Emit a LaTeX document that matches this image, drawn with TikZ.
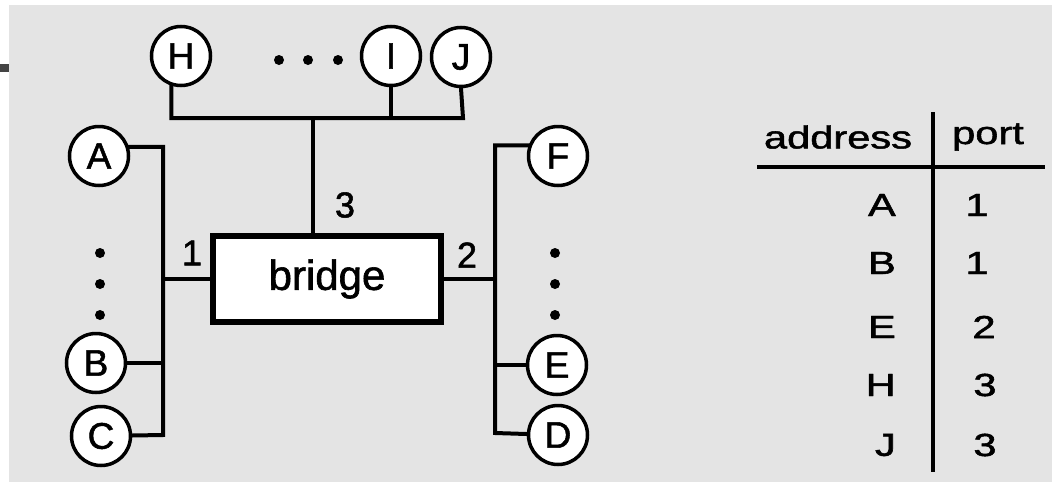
\documentclass[tikz,border=0pt]{standalone}
\usepackage{fontspec}
\setmainfont[FakeBold=1.4]{Liberation Sans}
\usepackage{graphicx}
\definecolor{bggray}{HTML}{E4E4E4}
\definecolor{tabbar}{HTML}{444444}
\tikzset{
  host/.style={circle, draw=black, fill=white, line width=3.5pt, minimum size=59pt, inner sep=0pt, font=\fontsize{37}{38}\selectfont},
  bus/.style={line width=4pt, line cap=rect},
  bridgebox/.style={rectangle, draw=black, fill=white, line width=6pt, minimum width=228pt, minimum height=86pt, inner sep=0pt, font=\fontsize{42}{44}\selectfont},
  portlbl/.style={inner sep=0pt, font=\fontsize{36}{38}\selectfont},
  tabtxt/.style={inner sep=0pt, font=\fontsize{32}{34}\selectfont},
  dot/.style={circle, fill=black, inner sep=0pt, minimum size=10pt},
  tabline/.style={line width=4pt}
}
\newcommand{\wide}[1]{\scalebox{1.3}[1]{#1}}
\begin{document}
\begin{tikzpicture}[x=1pt, y=-1pt]
\useasboundingbox (0,0) rectangle (1052,482);
\fill[white] (0,0) rectangle (1052,482);
\fill[bggray] (9,5) rectangle (1052,482);
\fill[tabbar] (0,64) rectangle (9,72);

% bridge
\node[bridgebox] (bridge) at (327,279) {bridge};

% top hosts
\node[host] (H) at (181,56) {H};
\node[host] (I) at (391,56) {I};
\node[host] (J) at (461,57) {J};
\node[dot] (t1) at (279,60) {};
\node[dot] (t2) at (308,60) {};
\node[dot] (t3) at (338,60) {};

% left hosts
\node[host] (A) at (99,156) {A};
\node[host] (B) at (96,363) {B};
\node[host] (C) at (101,436) {C};
\node[dot] (l1) at (100,253) {};
\node[dot] (l2) at (100,284) {};
\node[dot] (l3) at (100,315) {};

% right hosts
\node[host] (F) at (558,156) {F};
\node[host] (E) at (557,365) {E};
\node[host] (D) at (558,435) {D};
\node[dot] (r1) at (555,253) {};
\node[dot] (r2) at (555,284) {};
\node[dot] (r3) at (555,315) {};

% bus coordinates
\coordinate (tr) at (463,118);
\coordinate (tb) at (313,118);
\coordinate (lbot) at (163,435);
\coordinate (rbot) at (495,433);

% top segment
\draw[bus] (H.252) |- (tr) -- (J.south);
\draw[bus] (I) -- (I |- tr);
\draw[bus] (tb) -- (tb |- bridge.north);

% left segment
\draw[bus] (A.17) -| (lbot) -- (C);
\draw[bus] (B) -- (B -| lbot);
\draw[bus] (bridge.west) -- (bridge.west -| lbot);

% right segment
\draw[bus] (F.160) -| (rbot) -- (D);
\draw[bus] (E) -- (E -| rbot);
\draw[bus] (bridge.east) -- (bridge.east -| rbot);

% port labels
\node[portlbl] (p1) at (192,253) {1};
\node[portlbl] (p2) at (467,255) {2};
\node[portlbl] (p3) at (345,205) {3};

% table
\node[tabtxt] (haddr) at (838,137) {\wide{address}};
\node[tabtxt] (hport) at (988,137) {\wide{port}};
\coordinate (vtop) at (933,112);
\coordinate (vbot) at (933,472);
\coordinate (hl) at (757,167);
\coordinate (hr) at (1045,167);
\draw[tabline] (vtop) -- (vbot);
\draw[tabline] (hl) -- (hr);

\node[tabtxt, anchor=east] (aA) at (896,205) {\wide{A}};
\node[tabtxt, anchor=east] (aB) at (896,263) {\wide{B}};
\node[tabtxt, anchor=east] (aE) at (896,327) {\wide{E}};
\node[tabtxt, anchor=east] (aH) at (896,385) {\wide{H}};
\node[tabtxt, anchor=east] (aJ) at (896,445) {\wide{J}};

\node[tabtxt] (nA) at (977,205) {\wide{1}};
\node[tabtxt] (nB) at (977,263) {\wide{1}};
\node[tabtxt] (nE) at (984,327) {\wide{2}};
\node[tabtxt] (nH) at (985,385) {\wide{3}};
\node[tabtxt] (nJ) at (985,445) {\wide{3}};
\end{tikzpicture}
\end{document}
